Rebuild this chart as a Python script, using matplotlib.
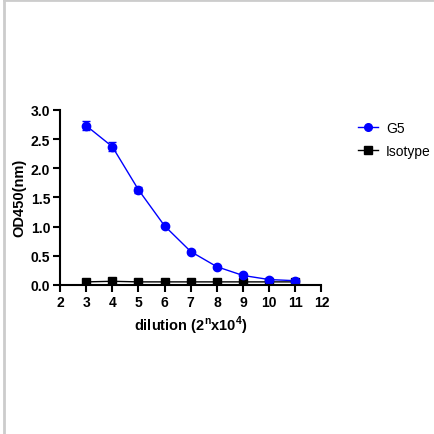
import numpy as np
import matplotlib.pyplot as plt
from matplotlib.lines import Line2D

plt.rcParams['font.family'] = ['Liberation Sans', 'DejaVu Sans']
plt.rcParams['font.weight'] = 'bold'

# data
dilution = [3, 4, 5, 6, 7, 8, 9, 10, 11]
g5 = [2.73, 2.37, 1.63, 1.01, 0.57, 0.31, 0.16, 0.09, 0.07]
g5_err = [0.08, 0.08, 0.05, 0.02, 0.02, 0.02, 0.02, 0.01, 0.01]
isotype = [0.05, 0.06, 0.05, 0.05, 0.05, 0.05, 0.05, 0.05, 0.05]
iso_err = [0.01, 0.01, 0.01, 0.01, 0.01, 0.01, 0.01, 0.01, 0.01]
xticks = [2, 3, 4, 5, 6, 7, 8, 9, 10, 11, 12]
yticks = [0.0, 0.5, 1.0, 1.5, 2.0, 2.5, 3.0]

fig = plt.figure(figsize=(4.35, 4.35), dpi=100)
ax = fig.add_axes([0.138, 0.343, 0.601, 0.402])

ax.errorbar(dilution, g5, yerr=g5_err, color='#0000ff', marker='o', ms=6,
            lw=1, capsize=3, elinewidth=1, label='G5', zorder=3)
ax.errorbar(dilution, isotype, yerr=iso_err, color='black', marker='s', ms=6,
            lw=1, capsize=3, elinewidth=1, label='Isotype', zorder=2)

ax.set_xlim(2, 12)
ax.set_ylim(0, 3)
ax.set_xticks(xticks)
ax.set_yticks(yticks)
ax.set_yticklabels([f'{v:.1f}' for v in yticks])
ax.tick_params(direction='out', length=5, width=1.5, labelsize=10, pad=2)
for s in ['top', 'right']:
    ax.spines[s].set_visible(False)
for s in ['left', 'bottom']:
    ax.spines[s].set_linewidth(1.5)
ax.spines['bottom'].set_zorder(4)

ax.set_ylabel('OD450(nm)', fontsize=10.5, fontweight='bold', labelpad=3)
ax.set_xlabel(r'dilution (2$^\mathregular{n}$x10$^\mathregular{4}$)',
              fontsize=10.5, fontweight='bold', labelpad=4)

handles = [Line2D([], [], color='#0000ff', marker='o', ms=5.5, lw=1),
           Line2D([], [], color='black', marker='s', ms=5.5, lw=1)]
leg = fig.legend(handles, ['G5', 'Isotype'], loc='upper left',
                 bbox_to_anchor=(0.822, 0.72), frameon=False,
                 borderpad=0, borderaxespad=0,
                 handlelength=1.5, labelspacing=0.65, handletextpad=0.55,
                 prop={'weight': 'normal', 'size': 10})

# light gray frame on the left and top of the image
fig.add_artist(Line2D([0.009, 0.009], [0, 1], color='#cccccc', lw=2,
                      transform=fig.transFigure))
fig.add_artist(Line2D([0.009, 1], [0.998, 0.998], color='#cccccc', lw=2,
                      transform=fig.transFigure))

fig.savefig('out.png', dpi=100)
